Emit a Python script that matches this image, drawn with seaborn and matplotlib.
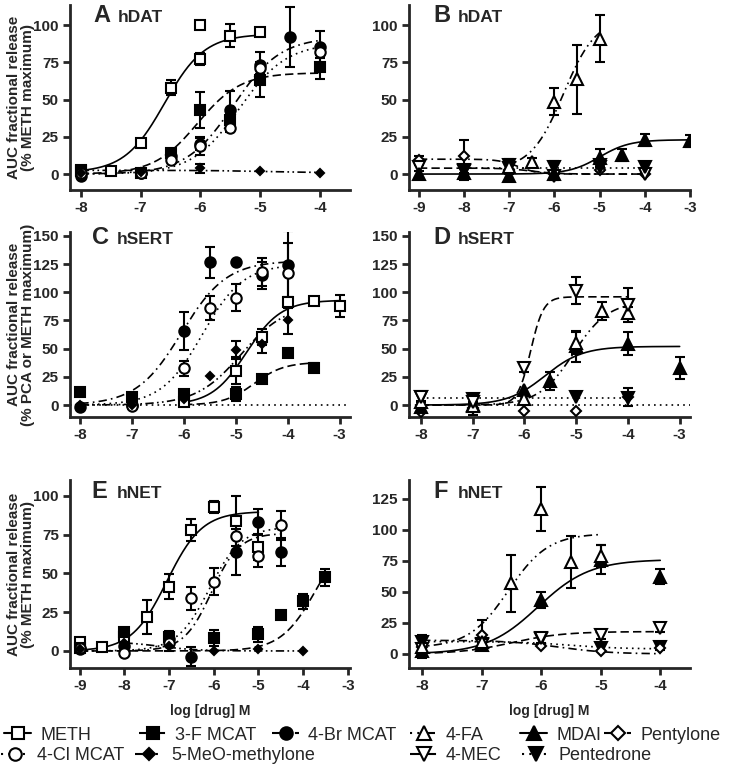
import numpy as np
import matplotlib
matplotlib.use('Agg')
import matplotlib.pyplot as plt
import seaborn as sns
from matplotlib.lines import Line2D

sns.set_style('ticks')
plt.rcParams['font.family'] = ['Liberation Sans', 'DejaVu Sans']
plt.rcParams['font.weight'] = 'bold'
plt.rcParams['axes.unicode_minus'] = False

# marker, filled, line style, marker size
styles = {
    'METH': ('s', False, '-', 7),
    '3-F MCAT': ('s', True, (0, (5, 2.5)), 7),
    '4-Br MCAT': ('o', True, (0, (5, 2.5, 1, 2.5)), 7.5),
    '4-Cl MCAT': ('o', False, (0, (1, 2.5)), 7.5),
    '5-MeO-methylone': ('D', True, (0, (5, 2, 1, 2, 1, 2)), 4.5),
    '4-FA': ('^', False, (0, (1, 2.5, 1, 2.5, 5, 2.5)), 8),
    'MDAI': ('^', True, '-', 8),
    'Pentylone': ('D', False, (0, (5, 2.5, 1, 2.5)), 5.5),
    '4-MEC': ('v', False, (0, (5, 2.5)), 8),
    'Pentedrone': ('v', True, (0, (1, 2.5)), 8),
}

# ---- data points: x = log[drug] M, y = % release, err = SEM ----
points_a = {
    'METH': ([-8, -7.5, -7, -6.5, -6, -6, -5.5, -5], [2.5, 2, 21, 58, 77, 100, 93, 95.5], [1, 0, 0, 5, 4, 0, 8, 0]),
    '3-F MCAT': ([-8, -7, -6.5, -6, -5.5, -5, -4], [2, 1, 14, 43, 36, 63, 72], [0, 0, 3, 12, 4, 11, 8]),
    '4-Br MCAT': ([-8, -7, -6.5, -6, -5.5, -5, -4.5, -4], [-1, 1, 12, 20, 43, 73, 92, 85], [0, 0, 0, 4, 13, 9, 20, 11]),
    '4-Cl MCAT': ([-8, -7, -6.5, -6, -5.5, -5, -4], [1, 1, 9.5, 19, 31, 71, 82], [0, 0, 0, 6, 3, 4, 4]),
    '5-MeO-methylone': ([-8, -7, -6, -5, -4], [1, 1.5, 4, 2.3, 0.7], [0, 0, 3, 0, 0]),
}
points_b = {
    'Pentylone': ([-9, -8, -7, -6, -5, -4], [9.4, 12, 3, 0, 3, 0], [3, 11, 0, 0, 0, 0]),
    '4-MEC': ([-9, -8, -7, -6, -5, -4], [5, 3, 4, -1, 5, 0], [3, 3, 4, 3, 3, 0]),
    'Pentedrone': ([-8, -7, -6, -5, -4], [2, 6, 5, 6, 4.5], [3, 4, 4, 3, 2]),
    'MDAI': ([-9, -8, -7, -6, -5, -4.5, -4, -3], [0, 1, -1, 0, 11, 13, 23, 22], [0, 5, 0, 0, 6, 4, 4, 4]),
    '4-FA': ([-7, -6.5, -6, -5.5, -5], [5, 8, 48.5, 63.5, 91], [0, 3, 9, 23, 16]),
}
points_c = {
    'METH': ([-6, -5, -4.5, -4, -3.5, -3], [3, 30.5, 60.6, 91, 92, 88], [0, 12, 7, 5, 0, 10]),
    '3-F MCAT': ([-8, -7, -6, -5, -4.5, -4, -3.5], [12, 7, 10, 10, 23.5, 46, 33], [0, 0, 0, 6, 0, 3, 4]),
    '4-Br MCAT': ([-8, -7, -6, -5.5, -5, -4.5, -4], [-1.5, 0, 65.7, 126.6, 126.6, 115, 124], [0, 0, 17, 14, 0, 12, 30]),
    '4-Cl MCAT': ([-7, -6, -5.5, -5, -4.5, -4], [-1, 32.5, 86, 95, 118, 117], [0, 7, 11, 12, 12, 27]),
    '5-MeO-methylone': ([-8, -7, -6, -5.5, -5, -4.5, -4], [0, 0, 5, 25.7, 49, 54, 75], [0, 0, 0, 0, 8, 8, 12]),
}
points_d = {
    'Pentylone': ([-8, -7, -6, -5, -4], [-6, -3, -5.5, -5.5, 7], [0, 6, 0, 0, 8]),
    'Pentedrone': ([-8, -7, -5, -4], [7, 5, 7, 6], [4, 3, 0, 0]),
    'MDAI': ([-8, -7, -6, -5.5, -5, -4, -3], [-1.5, 0, 13.6, 21, 52, 54.5, 33], [0, 0, 0, 8, 14, 10, 10]),
    '4-FA': ([-8, -7, -6, -5, -4.5, -4], [3, -1, 5, 55, 83, 82], [0, 0, 0, 10, 8, 5]),
    '4-MEC': ([-8, -7, -6, -5, -4], [7, 3, 33, 101.5, 89], [3, 0, 4, 12, 15]),
}
points_e = {
    'METH': ([-9, -8.5, -8, -7.5, -7, -6.5, -6, -5.5, -5], [5.6, 2.8, 9, 22, 41.5, 78, 92.7, 84, 67], [0, 0, 0, 11, 8, 7, 4, 16, 8]),
    '3-F MCAT': ([-9, -8, -7, -6, -5, -4.5, -4, -3.5], [2, 12, 9, 8.5, 10.7, 23, 32, 47.5], [0, 0, 4, 5, 5, 0, 5, 5.5]),
    '4-Br MCAT': ([-9, -8, -7, -6.5, -5.5, -5, -4.5], [1.3, 3, 8, -3.7, 64, 83.4, 64], [0, 0, 0, 6, 15, 8, 9]),
    '4-Cl MCAT': ([-9, -8, -7, -6.5, -6, -5.5, -5, -4.5], [2, -1.5, 5, 34, 44.7, 74, 61, 81], [0, 0, 0, 7.5, 8.5, 0, 7, 9.5]),
    '5-MeO-methylone': ([-9, -8, -7, -6, -5, -4], [1, 5, 3, 0, 1, 0], [0, 0, 3, 0, 0, 0]),
}
points_f = {
    'Pentedrone': ([-8, -7, -6, -5, -4], [10, 8, 12, 5, 6], [5, 3, 3, 3, 3]),
    'Pentylone': ([-8, -7, -6, -5, -4], [6, 15, 6.5, 2, 4.6], [0, 12, 0, 0, 0]),
    '4-MEC': ([-8, -7, -6, -5, -4], [4, 7, 12.6, 15.3, 20.7], [0, 0, 0, 3, 3]),
    'MDAI': ([-8, -7, -6, -5, -4], [2, 7, 43.5, 76, 62], [5, 0, 6.5, 12, 6]),
    '4-FA': ([-8, -7, -6.5, -6, -5.5, -5], [6, 10, 57, 116.7, 73.7, 79], [0, 0, 23, 18, 21, 9]),
}

# ---- sigmoid fit parameters: bottom, top, logEC50, hill, x from, x to ----
fits_a = {
    'METH': (1, 94, -6.6, 1.3, -8, -5),
    '3-F MCAT': (0, 68, -6.05, 1.2, -8, -4),
    '4-Br MCAT': (0, 92, -5.45, 1.1, -8, -4),
    '4-Cl MCAT': (0, 88, -5.35, 1.1, -8, -4),
    '5-MeO-methylone': (2.5, 1, -5, 1, -8, -4),
}
fits_b = {
    'Pentylone': (10, 0, -6.8, 2, -9, -4),
    '4-MEC': (4, 0, -6.5, 1.5, -9, -4),
    'Pentedrone': (4, 4, -6, 1, -8, -4),
    'MDAI': (0, 23, -5, 1.3, -9, -3),
    '4-FA': (3, 105, -5.8, 1.2, -7, -5),
}
fits_c = {
    'METH': (0, 93, -4.8, 1.3, -6, -3),
    '3-F MCAT': (0, 38, -4.65, 1.5, -6, -3.5),
    '4-Br MCAT': (0, 128, -6.05, 1, -8, -4),
    '4-Cl MCAT': (0, 125, -5.65, 1.1, -8, -4),
    '5-MeO-methylone': (0, 90, -4.9, 1, -8, -4),
}
fits_d = {
    'Pentedrone': (6, 6, -6, 1, -8, -4),
    'MDAI': (0, 52, -5.6, 1.2, -8, -3),
    '4-FA': (0, 92, -5.05, 1.3, -8, -4),
    '4-MEC': (0, 96, -5.88, 3.5, -8, -4),
}
fits_e = {
    'METH': (0, 90, -7.05, 1.1, -9, -5),
    '3-F MCAT': (0, 80, -3.7, 1.1, -9, -3.5),
    '4-Br MCAT': (0, 76, -6.05, 1.4, -9, -4.5),
    '4-Cl MCAT': (0, 80, -6.1, 1.2, -9, -4.5),
    '5-MeO-methylone': (6, 0, -7.2, 1, -8, -4),
}
fits_f = {
    'Pentedrone': (10, 4, -5.5, 1, -8, -4),
    'Pentylone': (11, 0, -5.7, 1, -8, -4),
    '4-MEC': (0, 18, -6.5, 1, -8, -4),
    'MDAI': (0, 76, -6.05, 1, -8, -4),
    '4-FA': (5, 97, -6.55, 1.3, -8, -5),
}

legend_row1 = ['METH', '3-F MCAT', '4-Br MCAT', '4-FA', 'MDAI', 'Pentylone']
legend_row2 = ['4-Cl MCAT', '5-MeO-methylone', '4-MEC', 'Pentedrone']


def sigmoid(x, bottom, top, logec50, hill):
    return bottom + (top - bottom) / (1 + 10 ** ((logec50 - x) * hill))


def draw_panel(ax, points, fits):
    for name, (x, y, err) in points.items():
        marker, filled, ls, ms = styles[name]
        if name in fits:
            b, t, ec, h, x0, x1 = fits[name]
            xx = np.linspace(x0, x1, 200)
            sns.lineplot(x=xx, y=sigmoid(xx, b, t, ec, h), ax=ax, color='black',
                         linewidth=1.2, linestyle=ls, zorder=2)
        yerr = np.where(np.array(err, dtype=float) > 0, err, np.nan)
        ax.errorbar(x, y, yerr=yerr, fmt=marker, mfc='black' if filled else 'white',
                    mec='black', ms=ms, mew=1.5, ecolor='black', elinewidth=1.5,
                    capsize=3.5, capthick=1.5, zorder=3)


def style_axes(ax, xlim, xticks, ylim, yticks, letter, title, tx, ty):
    ax.set_xlim(*xlim)
    ax.set_ylim(*ylim)
    ax.set_xticks(xticks)
    ax.set_yticks(yticks)
    sns.despine(ax=ax)
    for s in ['left', 'bottom']:
        ax.spines[s].set_linewidth(2)
    ax.tick_params(width=2, length=5, labelsize=11, pad=3)
    ax.set_xlabel('')
    ax.set_ylabel('')
    ax.text(tx, ty, letter, transform=ax.transAxes, fontsize=17, fontweight='bold', va='baseline')
    ax.text(tx + 0.088, ty, title, transform=ax.transAxes, fontsize=12.5, fontweight='bold', va='baseline')


fig = plt.figure(figsize=(7.3, 7.65), dpi=100)
W, H = 730, 765


def add_ax(left, right, top, bottom):
    return fig.add_axes([left / W, 1 - bottom / H, (right - left) / W, (bottom - top) / H])


ax_a = add_ax(70, 350, 5, 190)
ax_b = add_ax(409, 690, 5, 190)
ax_c = add_ax(70, 350, 232, 417)
ax_d = add_ax(409, 690, 232, 417)
ax_e = add_ax(70, 350, 480, 668)
ax_f = add_ax(409, 690, 480, 668)

draw_panel(ax_a, points_a, fits_a)
draw_panel(ax_b, points_b, fits_b)
for ax in (ax_c, ax_d):
    ax.axhline(0, color='black', linewidth=1.2, linestyle=(0, (1, 2.5)), zorder=1)
draw_panel(ax_c, points_c, fits_c)
draw_panel(ax_d, points_d, fits_d)
draw_panel(ax_e, points_e, fits_e)
draw_panel(ax_f, points_f, fits_f)

style_axes(ax_a, (-8.18, -3.5), range(-8, -3), (-10.7, 113.5), range(0, 101, 25), 'A', 'hDAT', 0.082, 0.908)
style_axes(ax_b, (-9.22, -3), range(-9, -2), (-10.7, 113.5), range(0, 101, 25), 'B', 'hDAT', 0.085, 0.908)
style_axes(ax_c, (-8.2, -2.8), range(-8, -2), (-10.6, 153.5), range(0, 151, 25), 'C', 'hSERT', 0.078, 0.935)
style_axes(ax_d, (-8.23, -2.8), range(-8, -2), (-10.6, 153.5), range(0, 151, 25), 'D', 'hSERT', 0.085, 0.935)
style_axes(ax_e, (-9.22, -2.95), range(-9, -2), (-11, 110.3), range(0, 101, 25), 'E', 'hNET', 0.078, 0.904)
style_axes(ax_f, (-8.22, -3.5), range(-8, -3), (-11.3, 140), range(0, 126, 25), 'F', 'hNET', 0.085, 0.904)

ax_a.set_ylabel('AUC fractional release\n(% METH maximum)', fontsize=11, fontweight='bold', linespacing=1.0)
ax_c.set_ylabel('AUC fractional release\n(% PCA or METH maximum)', fontsize=11, fontweight='bold', linespacing=1.0)
ax_e.set_ylabel('AUC fractional release\n(% METH maximum)', fontsize=11, fontweight='bold', linespacing=1.0)
for ax in (ax_a, ax_c, ax_e):
    ax.yaxis.set_label_coords(-0.125, 0.5)

ax_e.set_xlabel('log [drug] M', fontsize=10, fontweight='bold', labelpad=8)
ax_f.set_xlabel('log [drug] M', fontsize=10, fontweight='bold', labelpad=8)


def legend_entry(name, text_x, y):
    marker, filled, ls, ms = styles[name]
    h = Line2D([0], [0], color='black', linestyle=ls, linewidth=1.5, marker=marker,
               mfc='black' if filled else 'white', mec='black', ms=ms + 1.5, mew=1.5)
    fig.legend(handles=[h], labels=[name], loc='center left',
               bbox_to_anchor=((text_x - 36) / W, 1 - y / H), frameon=False,
               borderpad=0, borderaxespad=0, handlelength=1.5, handletextpad=0.5,
               prop={'size': 13, 'weight': 'normal'})


row1_x = [40, 175, 308, 446, 556, 640]
row2_x = [37, 171, 446, 558]
for name, tx in zip(legend_row1, row1_x):
    legend_entry(name, tx, 735)
for name, tx in zip(legend_row2, row2_x):
    legend_entry(name, tx, 756)

fig.savefig('out.png', dpi=100)
